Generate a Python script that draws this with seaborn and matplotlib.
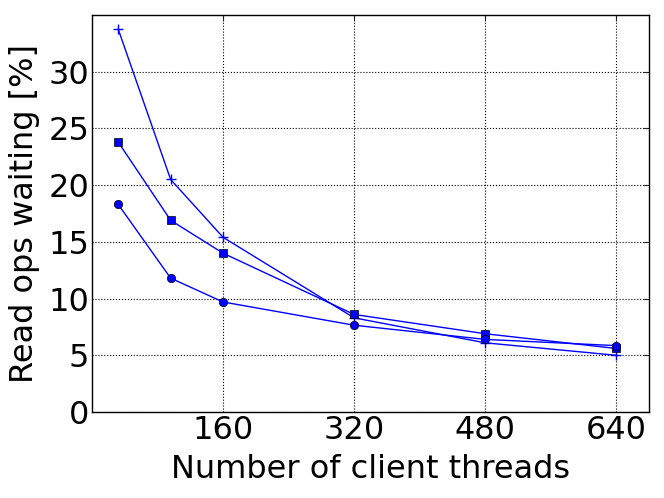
import seaborn as sns
import matplotlib.pyplot as plt
import pandas as pd

# --- data ---
threads = [32, 96, 160, 320, 480, 640]
wait_plus = [33.75, 20.5, 15.4, 8.3, 6.1, 5.0]
wait_square = [23.8, 16.9, 14.0, 8.6, 6.9, 5.6]
wait_circle = [18.3, 11.8, 9.7, 7.65, 6.4, 5.85]
x_ticks = [160, 320, 480, 640]
y_ticks = [0, 5, 10, 15, 20, 25, 30]

sns.set_style("white")
plt.rcParams['font.family'] = ['DejaVu Sans']

fig = plt.figure(figsize=(6.64, 4.98), dpi=100)
ax = fig.add_axes([92 / 664, 86 / 498, 557 / 664, 397 / 498])

# one call per series (seaborn won't mix '+' with filled markers)
series = [(wait_plus, "+"), (wait_square, "s"), (wait_circle, "o")]
for values, mk in series:
    df = pd.DataFrame({"threads": threads, "wait": values})
    if mk == "+":
        sns.lineplot(data=df, x="threads", y="wait", marker=mk, color="blue",
                     linewidth=1.0, markersize=7, markeredgecolor="blue",
                     markeredgewidth=1.0, ax=ax)
    else:
        sns.lineplot(data=df, x="threads", y="wait", marker=mk, color="blue",
                     linewidth=1.0, markersize=6, markeredgecolor="black",
                     markeredgewidth=0.5, ax=ax)

ax.set_xlim(0, 680)
ax.set_ylim(0, 35)
ax.set_xticks(x_ticks)
ax.set_yticks(y_ticks)
ax.grid(True, linestyle=":", color="black", linewidth=0.8)
ax.tick_params(direction="in", labelsize=23, length=4, top=True, right=True,
               labelcolor="black", pad=2)
ax.set_xlabel("Number of client threads", fontsize=23, color="black", labelpad=6)
ax.set_ylabel("Read ops waiting [%]", fontsize=23, color="black", labelpad=6)
for s in ax.spines.values():
    s.set_color("black")
    s.set_linewidth(1.0)

fig.savefig("out.png", dpi=100)
